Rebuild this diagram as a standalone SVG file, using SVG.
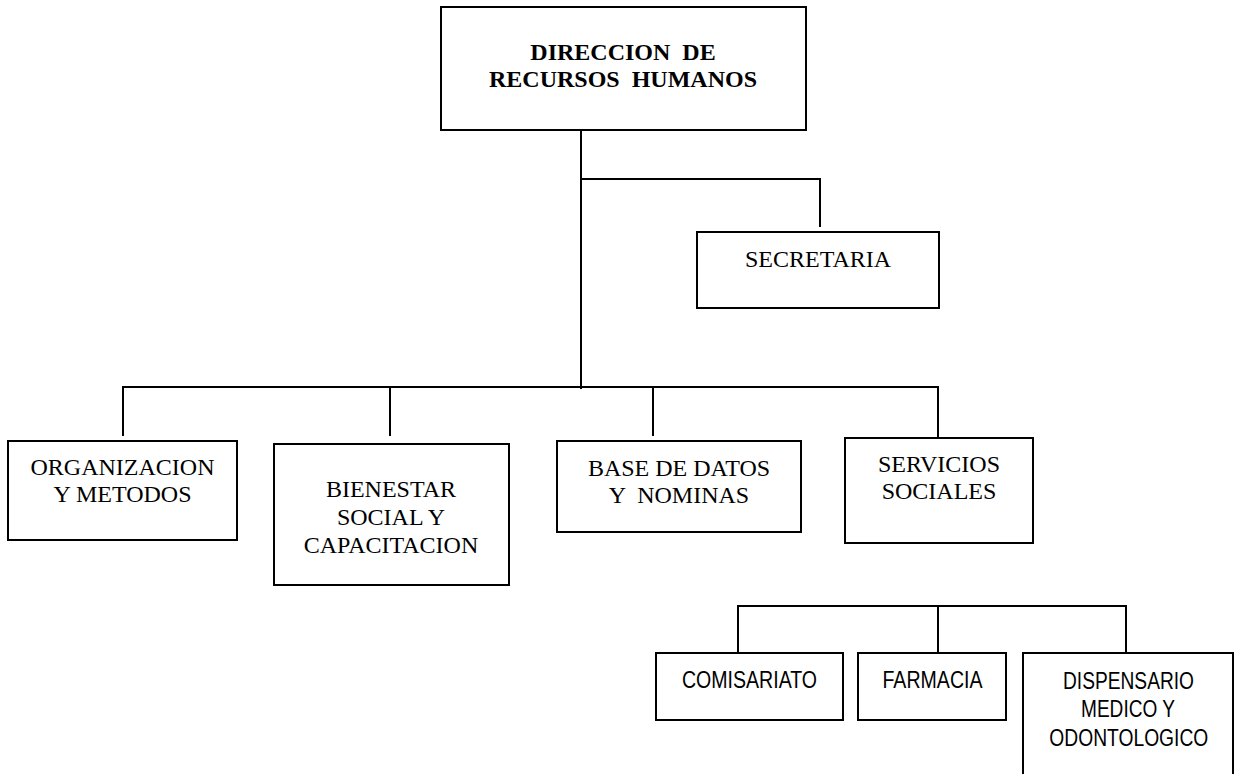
<svg xmlns="http://www.w3.org/2000/svg" width="1235" height="774" viewBox="0 0 1235 774">
<style>
  .box { fill: #ffffff; stroke: #000000; stroke-width: 2; }
  .ln { fill: none; stroke: #000000; stroke-width: 2; }
  .tb { font-family: "Liberation Serif", "Times New Roman", serif; font-size: 24px; font-weight: bold; fill: #000; text-anchor: middle; }
  .t { font-family: "Liberation Serif", "Times New Roman", serif; font-size: 24px; fill: #000; text-anchor: middle; }
  .s { font-family: "Liberation Sans", Arial, sans-serif; font-size: 23.5px; fill: #000; text-anchor: middle; }
</style>
<rect width="1235" height="774" fill="#ffffff"/>
<g id="connectors">
  <path class="ln" d="M581,130 V389"/>
  <path class="ln" d="M581,179 H820 V227"/>
  <path class="ln" d="M123,436 V387 H938 V437"/>
  <path class="ln" d="M390,387 V436"/>
  <path class="ln" d="M653,387 V436"/>
  <path class="ln" d="M738,653 V606 H1126 V653"/>
  <path class="ln" d="M938,606 V653"/>
</g>
<g id="node-direccion">
  <rect class="box" x="441" y="7" width="365" height="123"/>
  <text class="tb" x="623" y="60" xml:space="preserve">DIRECCION  DE</text>
  <text class="tb" x="623" y="87" xml:space="preserve">RECURSOS  HUMANOS</text>
</g>
<g id="node-secretaria">
  <rect class="box" x="697" y="232" width="242" height="76"/>
  <text class="t" x="818" y="267">SECRETARIA</text>
</g>
<g id="node-organizacion">
  <rect class="box" x="8" y="441" width="229" height="99"/>
  <text class="t" x="122.5" y="475">ORGANIZACION</text>
  <text class="t" x="122.5" y="502">Y METODOS</text>
</g>
<g id="node-bienestar">
  <rect class="box" x="274" y="444" width="235" height="141"/>
  <text class="t" x="391" y="497">BIENESTAR</text>
  <text class="t" x="391" y="525">SOCIAL Y</text>
  <text class="t" x="391" y="553">CAPACITACION</text>
</g>
<g id="node-base-datos">
  <rect class="box" x="557" y="441" width="244" height="91"/>
  <text class="t" x="679" y="476">BASE DE DATOS</text>
  <text class="t" x="679" y="503" xml:space="preserve">Y  NOMINAS</text>
</g>
<g id="node-servicios">
  <rect class="box" x="845" y="438" width="188" height="105"/>
  <text class="t" x="939" y="472">SERVICIOS</text>
  <text class="t" x="939" y="499">SOCIALES</text>
</g>
<g id="node-comisariato">
  <rect class="box" x="656" y="653" width="187" height="67"/>
  <text class="s" x="749.5" y="687.5" textLength="135" lengthAdjust="spacingAndGlyphs">COMISARIATO</text>
</g>
<g id="node-farmacia">
  <rect class="box" x="858" y="653" width="148" height="67"/>
  <text class="s" x="932.5" y="687.5" textLength="100" lengthAdjust="spacingAndGlyphs">FARMACIA</text>
</g>
<g id="node-dispensario">
  <path class="box" d="M1023,774 V653 H1233 V774"/>
  <text class="s" x="1128.5" y="688.5" textLength="131" lengthAdjust="spacingAndGlyphs">DISPENSARIO</text>
  <text class="s" x="1128" y="717" textLength="94" lengthAdjust="spacingAndGlyphs">MEDICO Y</text>
  <text class="s" x="1128.8" y="745.5" textLength="159" lengthAdjust="spacingAndGlyphs">ODONTOLOGICO</text>
</g>
</svg>
